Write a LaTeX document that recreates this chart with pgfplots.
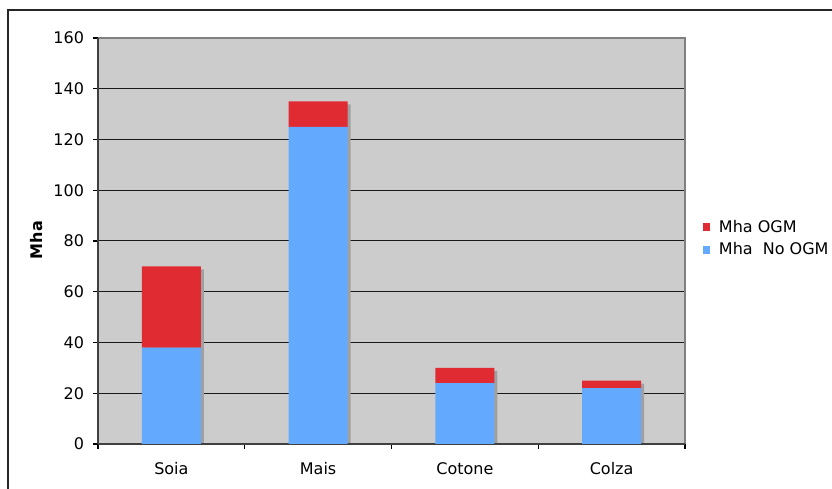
\documentclass[border=0pt]{standalone}
\usepackage{pgfplots}
\pgfplotsset{compat=1.18}
\usepackage{fontspec}
\setmainfont{DejaVu Sans}

\definecolor{plotbg}{HTML}{CCCCCC}
\definecolor{barshadow}{HTML}{A0A0A0}
\definecolor{ogmred}{HTML}{E02B33}
\definecolor{noogmblue}{HTML}{63AAFF}
\definecolor{axisdark}{HTML}{404040}
\definecolor{framegray}{HTML}{808080}

% Superfici coltivate (milioni di ettari)
\pgfplotstableread{
idx crop   noogm ogm total
0   Soia   38    32  70
1   Mais   125   10  135
2   Cotone 24    6   30
3   Colza  22    3   25
}\cropdata

\pgfplotsset{
  panel/.style={
    at={(73.5pt,33.75pt)}, anchor=south west, scale only axis,
    width=440.25pt, height=304.5pt,
    xmin=-0.5, xmax=3.5, ymin=0, ymax=160,
    ytick={0,20,...,160},
    bar width=44.25pt,
  },
}

\begin{document}
\begin{tikzpicture}[font=\fontsize{12pt}{14.4pt}\selectfont]
\useasboundingbox (0pt,0pt) rectangle (624pt,366.75pt);
% cornice esterna
\draw[line width=1pt,black!85] (6pt,-2pt) -- (6pt,359.25pt) -- (626pt,359.25pt);

% sfondo, griglia e ombre delle barre
\begin{axis}[panel,
  ybar, clip=true,
  axis background/.style={fill=plotbg},
  axis line style={framegray, line width=1pt},
  xtick=\empty, yticklabels={}, major tick length=0pt,
  ymajorgrids, grid style={black!90, line width=0.75pt},
]
\addplot[fill=barshadow, draw=none, bar shift=2.25pt,
  transform canvas={yshift=-2.25pt}]
  table[x=idx, y=total] {\cropdata};
\end{axis}

% barre impilate, assi ed etichette
\begin{axis}[panel,
  ybar stacked,
  axis x line*=bottom, axis y line*=left,
  axis line style={axisdark, line width=1.1pt},
  xtick={0,1,2,3},
  xticklabels={Soia,Mais,Cotone,Colza},
  minor xtick={-0.5,0.5,1.5,2.5,3.5},
  tick align=outside,
  major tick length=3.75pt, minor tick length=3.75pt,
  every major x tick/.append style={draw=none},
  tick style={black, line width=0.8pt},
  xticklabel style={anchor=base, yshift=-19pt},
  yticklabel style={anchor=east, xshift=-3.25pt},
  /pgf/number format/assume math mode=true,
  ylabel={\bfseries Mha},
  y label style={at={(axis description cs:-0.1039,0.502)}, anchor=center},
  reverse legend,
  legend style={at={(axis description cs:1.0307,0.5065)}, anchor=west,
    draw=none, fill=none, inner sep=0pt, row sep=6.5pt,
    nodes={inner sep=0pt, anchor=west},
    /tikz/every odd column/.append style={column sep=6.5pt}},
  legend image code/.code={\fill[#1,draw=none] (0pt,-2.8pt) rectangle (5.25pt,2.8pt);},
]
\addplot[fill=noogmblue, draw=none] table[x=idx, y=noogm] {\cropdata};
\addlegendentry{Mha~~No OGM}
\addplot[fill=ogmred, draw=none] table[x=idx, y=ogm] {\cropdata};
\addlegendentry{Mha OGM}
\end{axis}
\end{tikzpicture}
\end{document}
